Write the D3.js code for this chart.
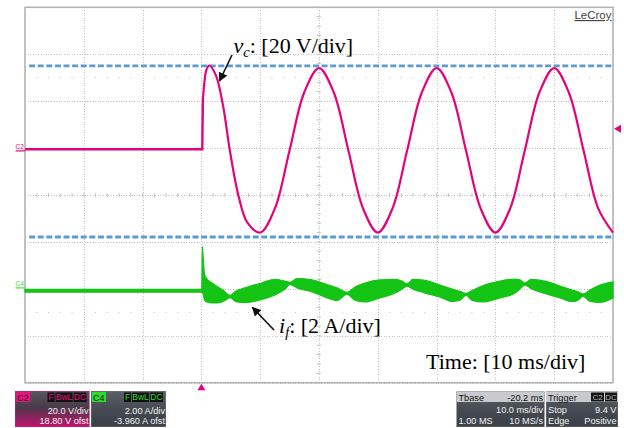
<!DOCTYPE html>
<html><head><meta charset="utf-8">
<script src="https://cdn.jsdelivr.net/npm/d3@7"></script>
<style>body{margin:0;background:#fff}svg{display:block}</style>
</head><body><svg id="c" width="624" height="428"></svg>
<script>
// ---------------- data ----------------
const timeDomain = [-30, 70];          // ms (10 ms/div, trigger at 0)
const c2VoltsPerDiv = 20, c2Offset = 18.80;   // V
const c4AmpsPerDiv = 2.00, c4Offset = -3.960; // A
const triggerLevel = 9.4;              // V on C2
const refLevels = [36.2, -36.7];       // blue dashed lines (V)

// v_c (C2) samples
const vcTime  = [-30, 0.15, 0.25, 0.5, 0.85, 1.35, 2.5, 3.7, 4.85, 6.3, 7.8, 10,
                 12.5, 15, 17.5, 20, 22.5, 25, 27.5, 30, 32.5, 35, 37.5, 40,
                 42.5, 45, 47.5, 50, 52.5, 55, 57.5, 60, 62.5, 65, 67.5, 70];
const vcValue = [0.7, 0.7, 21.7, 28.9, 34.5, 36.4, 32, 19, 0, -19, -30.5, -34.8,
                 -24.5, 0.3, 25, 35.3, 25, 0.2, -24.6, -34.8, -24.5, 0.3, 25, 35.3,
                 25, 0.2, -24.6, -34.8, -24.6, 0.2, 25, 35.3, 24.8, 0.1, -24.6, -34.8];

// i_f (C4) ripple envelope
const ifTime  = [-30, 0.07, 0.15, 0.31, 0.53, 0.95, 1.80, 2.82, 3.84, 4.86, 5.88, 7.41,
                 10.31, 12.52, 14.22, 15.07, 16.26, 18.81, 21.02, 23.06, 24.76, 26.12,
                 27.82, 30.37, 32.93, 34.12, 34.97, 35.99, 38.03, 40.58, 42.62, 43.98,
                 45.0, 46.02, 47.72, 50.78, 53.33, 54.18, 55.03, 56.05, 58.43, 60.99,
                 63.03, 64.05, 64.9, 66.09, 67.79, 70.0];
const ifUpper = [-0.06, -0.06, 1.76, 1.27, 0.59, 0.38, 0.21, 0.04, -0.13, -0.32, -0.13, 0.00,
                 0.22, 0.37, 0.29, 0.24, 0.40, 0.34, 0.17, 0.00, -0.19, 0.04,
                 0.21, 0.34, 0.36, 0.29, 0.17, 0.36, 0.32, 0.12, -0.05, -0.15,
                 -0.23, -0.11, 0.08, 0.29, 0.38, 0.34, 0.21, 0.36, 0.29, 0.08,
                 -0.09, -0.17, -0.26, -0.09, 0.12, 0.26];
const ifLower = [-0.18, -0.18, -0.18, -0.30, -0.52, -0.60, -0.64, -0.64, -0.56, -0.41, -0.59, -0.63,
                 -0.49, -0.30, -0.05, 0.15, 0.00, -0.17, -0.39, -0.54, -0.27, -0.52,
                 -0.60, -0.43, -0.22, -0.05, 0.08, -0.05, -0.22, -0.39, -0.58, -0.52,
                 -0.32, -0.52, -0.60, -0.43, -0.22, -0.05, 0.12, -0.03, -0.24, -0.43,
                 -0.59, -0.52, -0.35, -0.58, -0.62, -0.43];

const c2Info = ["20.0 V/div", "18.80 V ofst"];
const c4Info = ["2.00 A/div", "-3.960 A ofst"];
const tbaseInfo = ["Tbase", "-20.2 ms", "10.0 ms/div", "1.00 MS", "10 MS/s"];
const trigInfo = ["Trigger", "Stop", "9.4 V", "Edge", "Positive"];

// ---------------- layout ----------------
const PL = 25, PR = 613, PT = 7.3, PB = 382.7;
const PINK = "#e3037d", GREEN = "#14c414", BLUE = "#5b9bd5", GRID = "#c4c4c4";
const svg = d3.select("#c");

const x = d3.scaleLinear().domain(timeDomain).range([PL, PR]);
const yDiv = d3.scaleLinear().domain([-4, 4]).range([PB, PT]);
const yC2 = d3.scaleLinear()
  .domain([-4 * c2VoltsPerDiv - c2Offset, 4 * c2VoltsPerDiv - c2Offset]).range([PB, PT]);
const yC4 = d3.scaleLinear()
  .domain([-4 * c4AmpsPerDiv - c4Offset, 4 * c4AmpsPerDiv - c4Offset]).range([PB, PT]);

// grid (dotted) via axes
const gx = svg.append("g").attr("transform", `translate(0,${PB})`)
  .call(d3.axisBottom(x).ticks(10).tickSize(-(PB - PT)).tickFormat(""));
const gy = svg.append("g").attr("transform", `translate(${PL},0)`)
  .call(d3.axisLeft(yDiv).ticks(8).tickSize(-(PR - PL)).tickFormat(""));
[gx, gy].forEach(g => {
  g.select(".domain").remove();
  g.selectAll(".tick line").attr("stroke", GRID).attr("stroke-width", 1)
    .attr("stroke-dasharray", "1,1.6").attr("shape-rendering", "crispEdges");
});

// minor ticks on centre lines
const minorT = d3.range(-30, 70.01, 2);
svg.append("g").selectAll("line").data(minorT).join("line")
  .attr("x1", d => x(d)).attr("x2", d => x(d))
  .attr("y1", yDiv(0) - 2).attr("y2", yDiv(0) + 2)
  .attr("stroke", GRID).attr("stroke-width", 1);
const minorD = d3.range(-4, 4.01, 0.2);
svg.append("g").selectAll("line").data(minorD).join("line")
  .attr("y1", d => yDiv(d)).attr("y2", d => yDiv(d))
  .attr("x1", x(20) - 2).attr("x2", x(20) + 2)
  .attr("stroke", GRID).attr("stroke-width", 1);
// dotted rows at +/-2.5 div
[2.5, -2.5].forEach(r => {
  svg.append("g").selectAll("rect").data(minorT.filter(t => (t + 30) % 10 !== 0)).join("rect")
    .attr("x", d => x(d) - 0.5).attr("y", yDiv(r) - 0.5).attr("width", 1).attr("height", 1)
    .attr("fill", "#b8b8b8");
});

// frame
svg.append("rect").attr("x", PL).attr("y", PT).attr("width", PR - PL).attr("height", PB - PT)
  .attr("fill", "none").attr("stroke", "#b5b5b5").attr("stroke-width", 1.6);

// blue reference lines
svg.append("g").selectAll("line").data(refLevels).join("line")
  .attr("x1", x(-29.3)).attr("x2", PR + 1)
  .attr("y1", d => yC2(d)).attr("y2", d => yC2(d))
  .attr("stroke", BLUE).attr("stroke-width", 2.8).attr("stroke-dasharray", "6,2.6");

// i_f band
const ifData = ifTime.map((t, i) => ({ t, hi: ifUpper[i], lo: ifLower[i] }));
svg.append("path").datum(ifData)
  .attr("d", d3.area().x(d => x(d.t)).y0(d => yC4(d.lo)).y1(d => yC4(d.hi)).curve(d3.curveMonotoneX))
  .attr("fill", GREEN).attr("stroke", GREEN).attr("stroke-width", 1.2);

// v_c trace
const vcData = vcTime.map((t, i) => ({ t, v: vcValue[i] }));
const lineLin = d3.line().x(d => x(d.t)).y(d => yC2(d.v));
const lineCur = d3.line().x(d => x(d.t)).y(d => yC2(d.v)).curve(d3.curveCatmullRom.alpha(0.5));
svg.append("path").attr("d", lineLin(vcData.slice(0, 3)))
  .attr("fill", "none").attr("stroke", PINK).attr("stroke-width", 2.4);
svg.append("path").attr("d", lineCur(vcData.slice(2)))
  .attr("fill", "none").attr("stroke", PINK).attr("stroke-width", 2.2);

// channel ground markers
[["C2", yC2(0), PINK], ["C4", yC4(0), "#3ddc3d"]].forEach(([lab, yy, col]) => {
  svg.append("text").attr("x", 15.5).attr("y", yy - 1.6).text(lab)
    .attr("font-family", "Liberation Sans, Arial").attr("font-size", 6.5).attr("fill", col);
  svg.append("line").attr("x1", 15.5).attr("x2", PL).attr("y1", yy).attr("y2", yy)
    .attr("stroke", col).attr("stroke-width", 1.2);
});

// trigger markers
svg.append("path").attr("d", `M${PR + 1},${yC2(triggerLevel)} l7,-4 v8 z`).attr("fill", PINK);
svg.append("path").attr("d", `M${x(0)},${PB + 1} l-4,6.5 h8 z`).attr("fill", PINK);

// LeCroy
svg.append("text").attr("x", 611.5).attr("y", 19).attr("text-anchor", "end").text("LeCroy")
  .attr("font-family", "Liberation Sans, Arial").attr("font-size", 11.5).attr("fill", "#444")
  .attr("text-decoration", "underline");

// annotations
const serif = "Liberation Serif, Times New Roman, serif";
function label(x0, y0, main, sub, rest) {
  const t = svg.append("text").attr("x", x0).attr("y", y0)
    .attr("font-family", serif).attr("font-size", 22).attr("fill", "#000");
  if (main) {
    t.append("tspan").attr("font-style", "italic").text(main);
    t.append("tspan").attr("font-style", "italic").attr("font-size", 14.5).attr("dy", 4).text(sub);
    t.append("tspan").attr("dy", -4).text(rest);
  } else t.text(rest);
}
label(233.5, 53, "v", "c", ": [20 V/div]");
label(279, 333, "i", "f", ": [2 A/div]");
label(426, 369, null, null, "Time: [10 ms/div]");

svg.append("defs").append("marker").attr("id", "ah").attr("viewBox", "0 0 10 10")
  .attr("refX", 9).attr("refY", 5).attr("markerWidth", 9).attr("markerHeight", 9)
  .attr("markerUnits", "userSpaceOnUse").attr("orient", "auto")
  .append("path").attr("d", "M0,0 L10,5 L0,10 z").attr("fill", "#111");
svg.append("line").attr("x1", 232).attr("y1", 55).attr("x2", 219.5).attr("y2", 81)
  .attr("stroke", "#111").attr("stroke-width", 1.6).attr("marker-end", "url(#ah)");
svg.append("line").attr("x1", 274).attr("y1", 330).attr("x2", 252.5).attr("y2", 307.5)
  .attr("stroke", "#111").attr("stroke-width", 1.6).attr("marker-end", "url(#ah)");

// ---------------- info panels ----------------
const defs = svg.select("defs");
function grad(id, stops) {
  const g = defs.append("linearGradient").attr("id", id).attr("x1", 0).attr("x2", 0).attr("y1", 0).attr("y2", 1);
  stops.forEach(([o, c]) => g.append("stop").attr("offset", o).attr("stop-color", c));
}
grad("gC2", [[0, "#5a5660"], [0.45, "#4a3a4a"], [1, "#c2126e"]]);
grad("gDark", [[0, "#5c6068"], [0.5, "#464a52"], [1, "#3a3e46"]]);
const sans = "Liberation Sans, Arial, sans-serif";

function clip(id, x0, y0, w, h) {
  defs.append("clipPath").attr("id", id).append("rect").attr("x", x0).attr("y", y0).attr("width", w).attr("height", h);
}
function chanPanel(id, x0, w, fillId, border, badgeCol, badgeTxt, info) {
  const y0 = 391, h = 36;
  clip(id, x0, y0, w, h);
  const g = svg.append("g").attr("clip-path", `url(#${id})`);
  g.append("rect").attr("x", x0).attr("y", y0).attr("width", w).attr("height", h)
    .attr("fill", `url(#${fillId})`).attr("stroke", border).attr("stroke-width", 1);
  g.append("rect").attr("x", x0 + 1).attr("y", y0 + 1).attr("width", 14).attr("height", 10).attr("fill", badgeCol);
  g.append("text").attr("x", x0 + 2).attr("y", y0 + 9.5).text(badgeTxt)
    .attr("font-family", sans).attr("font-size", 9).attr("fill", "#202020");
  const badges = [["F", 7], ["BwL", 17], ["DC", 13]];
  let bx = x0 + w - 2 - d3.sum(badges, b => b[1] + 1);
  badges.forEach(([s, bw]) => {
    g.append("rect").attr("x", bx).attr("y", y0 + 1.5).attr("width", bw).attr("height", 9.5).attr("fill", "#111");
    g.append("text").attr("x", bx + bw / 2).attr("y", y0 + 9.3).attr("text-anchor", "middle").text(s)
      .attr("font-family", sans).attr("font-size", 8.5).attr("fill", badgeCol);
    bx += bw + 1;
  });
  info.forEach((s, i) => g.append("text").attr("x", x0 + w - 1).attr("y", y0 + 22.5 + i * 10.5)
    .attr("text-anchor", "end").text(s).attr("font-family", sans).attr("font-size", 9.2).attr("fill", "#f2f2f2"));
}
chanPanel("cp2", 15, 74.5, "gC2", "#d0207f", "#e8137f", "C2", c2Info);
chanPanel("cp4", 91, 75, "gDark", "#777", "#2bdc2b", "C4", c4Info);

function timePanel(id, x0, w, rows) {
  const y0 = 391.5, h = 35.5;
  clip(id, x0, y0, w, h);
  const g = svg.append("g").attr("clip-path", `url(#${id})`);
  g.append("rect").attr("x", x0).attr("y", y0).attr("width", w).attr("height", h)
    .attr("fill", "url(#gDark)").attr("stroke", "#777");
  g.append("rect").attr("x", x0).attr("y", y0).attr("width", w).attr("height", 10.5).attr("fill", "#c8cacd");
  rows(g, x0, y0, w);
}
const txt = (g, xx, yy, s, anchor, col) => g.append("text").attr("x", xx).attr("y", yy).text(s)
  .attr("text-anchor", anchor).attr("font-family", sans).attr("font-size", 9.2).attr("fill", col);
timePanel("tp", 456.5, 88, (g, x0, y0, w) => {
  txt(g, x0 + 2, y0 + 9, tbaseInfo[0], "start", "#111");
  txt(g, x0 + w - 1.5, y0 + 9, tbaseInfo[1], "end", "#111");
  txt(g, x0 + w - 1.5, y0 + 21, tbaseInfo[2], "end", "#f2f2f2");
  txt(g, x0 + 2, y0 + 32, tbaseInfo[3], "start", "#f2f2f2");
  txt(g, x0 + w - 1.5, y0 + 32, tbaseInfo[4], "end", "#f2f2f2");
});
timePanel("trp", 546, 72, (g, x0, y0, w) => {
  txt(g, x0 + 2, y0 + 9, trigInfo[0], "start", "#111");
  [["C2", 13], ["DC", 12]].reduce((bx, [s, bw]) => {
    g.append("rect").attr("x", bx).attr("y", y0 + 1).attr("width", bw).attr("height", 9).attr("fill", "#151515");
    g.append("text").attr("x", bx + bw / 2).attr("y", y0 + 8.6).attr("text-anchor", "middle").text(s)
      .attr("font-family", sans).attr("font-size", 8).attr("fill", "#bbb");
    return bx + bw + 1;
  }, x0 + w - 27);
  txt(g, x0 + 2, y0 + 21, trigInfo[1], "start", "#f2f2f2");
  txt(g, x0 + w - 1.5, y0 + 21, trigInfo[2], "end", "#f2f2f2");
  txt(g, x0 + 2, y0 + 32, trigInfo[3], "start", "#f2f2f2");
  txt(g, x0 + w - 1.5, y0 + 32, trigInfo[4], "end", "#f2f2f2");
});
</script></body></html>
